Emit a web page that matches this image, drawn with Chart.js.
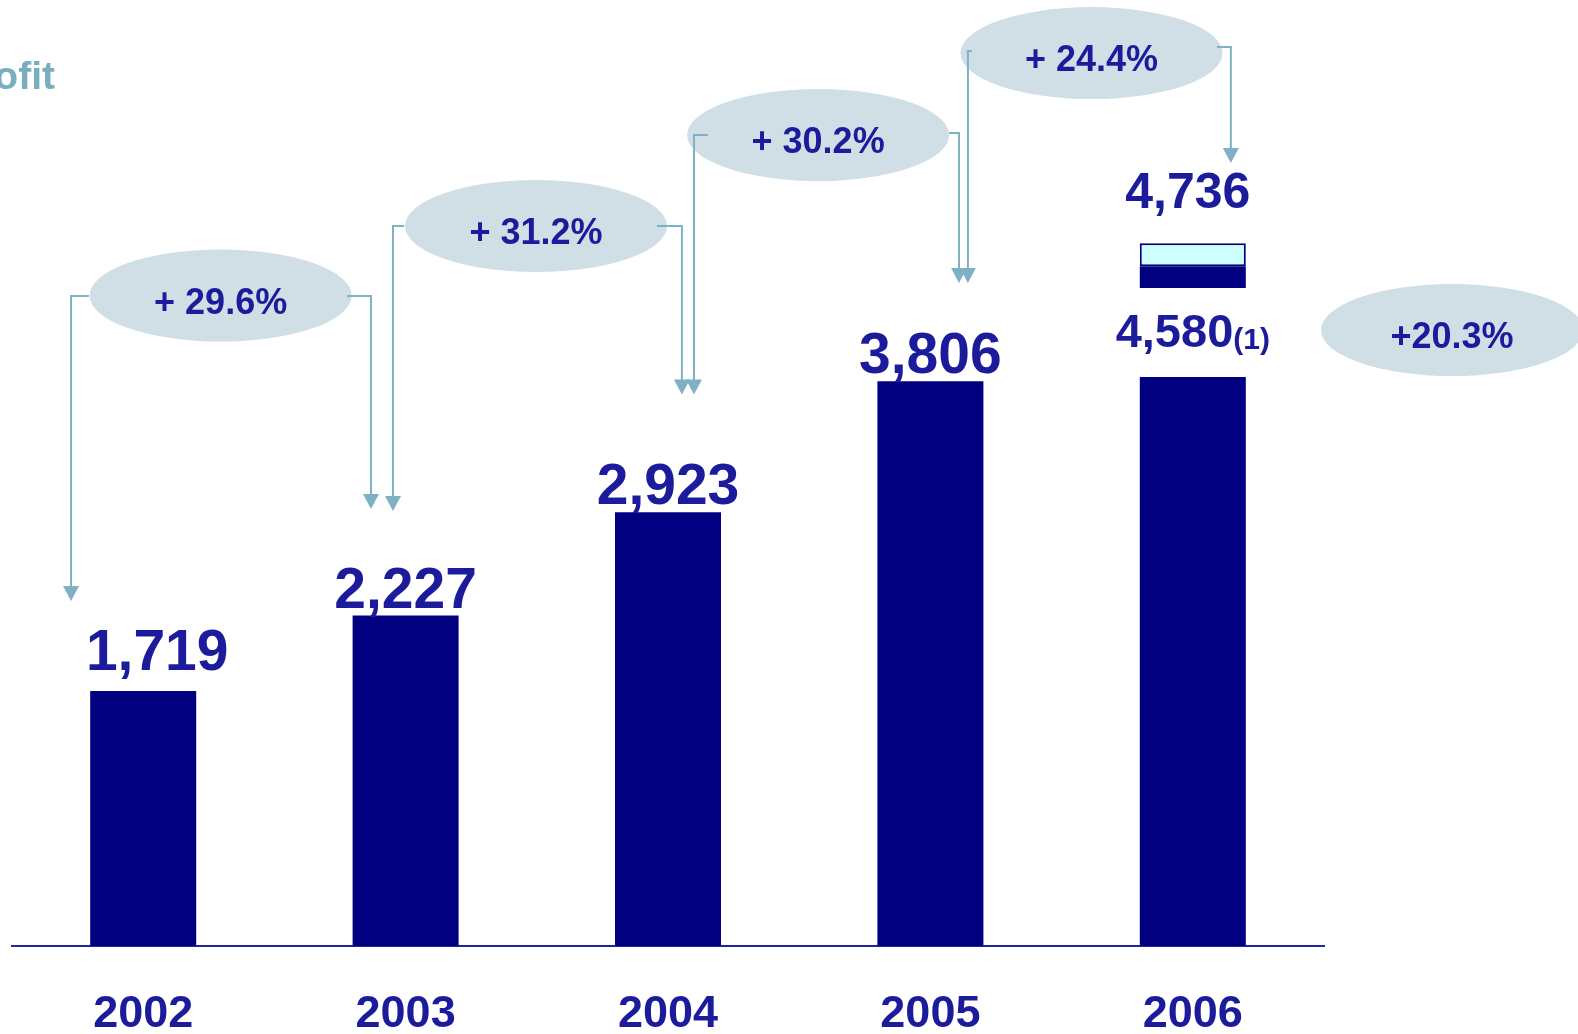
<!DOCTYPE html>
<html>
<head>
<meta charset="utf-8">
<script src="https://cdn.jsdelivr.net/npm/chart.js@4.4.1/dist/chart.umd.min.js"></script>
<style>
  html, body { margin: 0; padding: 0; background: #fff; }
  #wrap { width: 1578px; height: 1034px; }
</style>
</head>
<body>
<div id="wrap"><canvas id="profitChart" width="1578" height="1034"></canvas></div>
<script>
const years = ['2002', '2003', '2004', '2005', '2006'];
const profit = [1719, 2227, 2923, 3806, 4580];
const profit2006Total = 4736;
const axisBreak2006 = [3834, 4434];   // 2006 bar is cut between these two values
const growthLabels = ['+ 29.6%', '+ 31.2%', '+ 30.2%', '+ 24.4%'];
const growth2006 = '+20.3%';

const NAVY = '#000080';
const TEXT = '#1b1b9b';
const FONT = '"Liberation Sans", Arial, sans-serif';

// callout bubbles: centre in (category index, value), legs go from the bubble down to the next label
const callouts = [
  { text: growthLabels[0], cx: 0.295, cy: 4383,
    legs: [{ from: -0.207, at: -0.275, y: 4380, tip: 2325 }, { from: 0.777, at: 0.868, y: 4380, tip: 2945 }] },
  { text: growthLabels[1], cx: 1.497, cy: 4852,
    legs: [{ from: 0.994, at: 0.952, y: 4852, tip: 2931 }, { from: 1.958, at: 2.053, y: 4852, tip: 3716 }] },
  { text: growthLabels[2], cx: 2.572, cy: 5465,
    legs: [{ from: 2.152, at: 2.099, y: 5465, tip: 3716 }, { from: 3.071, at: 3.109, y: 5478, tip: 4468 }] },
  { text: growthLabels[3], cx: 3.614, cy: 6017,
    legs: [{ from: 3.158, at: 3.143, y: 6031, tip: 4468 }, { from: 4.092, at: 4.145, y: 6058, tip: 5276 }] },
  { text: growth2006, cx: 4.988, cy: 4151, legs: [] }
];

const fmt = n => n.toLocaleString('en-US');

const baseBars = profit.map((v, i) => i < 4 ? [0, v] : [0, axisBreak2006[0]]);
const upperBar = profit.map((v, i) => i < 4 ? null : [axisBreak2006[1], v]);
const extraBar = profit.map((v, i) => i < 4 ? null : [v, profit2006Total]);

const calloutPlugin = {
  id: 'callouts',
  afterDatasetsDraw(chart) {
    const { ctx, scales: { x, y } } = chart;
    const px = v => x.getPixelForValue(v);
    const py = v => y.getPixelForValue(v);
    ctx.save();

    // heading, mostly off the left edge
    ctx.fillStyle = '#7badc1';
    ctx.font = 'bold 39px ' + FONT;
    ctx.textAlign = 'right';
    ctx.textBaseline = 'alphabetic';
    ctx.fillText('Net Profit', 55, 89);

    // value labels (first one sits a little higher and to the right)
    ctx.fillStyle = TEXT;
    ctx.textAlign = 'center';
    const bars = chart.getDatasetMeta(0).data;
    ctx.font = 'bold 57px ' + FONT;
    for (let i = 0; i < 4; i++) {
      const dx = i === 0 ? 14 : 0, dy = i === 0 ? 13 : 0;
      ctx.fillText(fmt(profit[i]), bars[i].x + dx, bars[i].y - 8 - dy);
    }
    const top = chart.getDatasetMeta(2).data[4];
    ctx.font = 'bold 50px ' + FONT;
    ctx.fillText(fmt(profit2006Total), top.x - 5, top.y - 35);

    const main = fmt(profit[4]), note = '(1)';
    ctx.font = 'bold 47px ' + FONT;
    const w1 = ctx.measureText(main).width;
    ctx.font = 'bold 30px ' + FONT;
    const w2 = ctx.measureText(note).width;
    const x0 = bars[4].x - (w1 + w2) / 2;
    const yb = bars[4].y - 30;
    ctx.textAlign = 'left';
    ctx.font = 'bold 47px ' + FONT;
    ctx.fillText(main, x0, yb);
    ctx.font = 'bold 30px ' + FONT;
    ctx.fillText(note, x0 + w1, yb + 2);

    // bubbles
    ctx.fillStyle = '#d0dee5';
    callouts.forEach(c => {
      ctx.beginPath();
      ctx.ellipse(px(c.cx), py(c.cy), 131, 46, 0, 0, Math.PI * 2);
      ctx.fill();
    });

    // elbow arrows
    ctx.strokeStyle = '#7fb1c5';
    ctx.fillStyle = '#7fb1c5';
    ctx.lineWidth = 2;
    callouts.forEach(c => c.legs.forEach(l => {
      const ys = py(l.y), xc = px(l.at), yt = py(l.tip);
      ctx.beginPath();
      ctx.moveTo(px(l.from), ys);
      ctx.lineTo(xc, ys);
      ctx.lineTo(xc, yt - 12);
      ctx.stroke();
      ctx.beginPath();
      ctx.moveTo(xc - 8, yt - 15);
      ctx.lineTo(xc + 8, yt - 15);
      ctx.lineTo(xc, yt);
      ctx.closePath();
      ctx.fill();
    }));

    // bubble text
    ctx.fillStyle = TEXT;
    ctx.textAlign = 'center';
    ctx.font = 'bold 36px ' + FONT;
    callouts.forEach(c => ctx.fillText(c.text, px(c.cx), py(c.cy) + 18));

    ctx.restore();
  }
};

new Chart(document.getElementById('profitChart'), {
  type: 'bar',
  data: {
    labels: years,
    datasets: [
      { data: baseBars, backgroundColor: NAVY, borderWidth: 0 },
      { data: upperBar, backgroundColor: NAVY, borderWidth: 0 },
      { data: extraBar, backgroundColor: '#ccffff', borderColor: NAVY, borderWidth: 2, borderSkipped: false }
    ]
  },
  options: {
    responsive: false,
    animation: false,
    layout: { padding: { left: 12, right: 254, top: 0, bottom: 0 } },
    datasets: { bar: { grouped: false, barPercentage: 0.404, categoryPercentage: 1 } },
    plugins: { legend: { display: false }, tooltip: { enabled: false } },
    scales: {
      x: {
        grid: { display: false, drawTicks: false },
        border: { display: true, color: '#2424a0', width: 2 },
        ticks: {
          color: TEXT,
          padding: 46,
          maxRotation: 0,
          autoSkip: false,
          font: { family: FONT, size: 45, weight: 'bold', lineHeight: 1 }
        },
        afterFit(scale) { scale.height = 88; }
      },
      y: { display: false, min: 0, max: 6375 }
    }
  },
  plugins: [calloutPlugin]
});
</script>
</body>
</html>
